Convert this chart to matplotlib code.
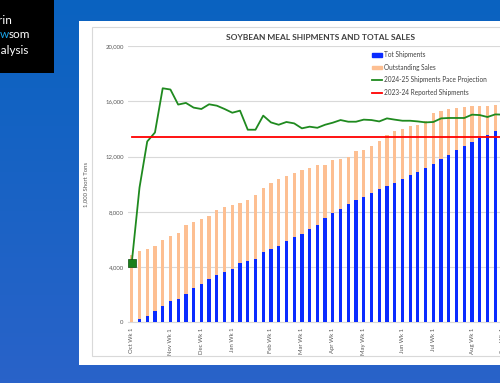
import matplotlib
matplotlib.use('Agg')
import matplotlib.pyplot as plt
import numpy as np
from matplotlib.patches import Rectangle, Patch
from matplotlib.lines import Line2D
from matplotlib.colors import LinearSegmentedColormap

plt.rcParams['font.family'] = ['Lato', 'DejaVu Sans']

# --- data (1,000 short tons), marketing year Oct 2024 - Sep 2025
months = ['Oct', 'Nov', 'Dec', 'Jan', 'Feb', 'Mar', 'Apr', 'May', 'Jun', 'Jul', 'Aug', 'Sep']
weeks_in_month = [5, 4, 4, 5, 4, 4, 4, 5, 4, 5, 4, 4]

tot_shipments = [50, 260, 480, 800, 1190, 1510, 1700, 2040, 2450, 2770, 3140, 3440, 3660, 3890,
                 4290, 4440, 4580, 5070, 5310, 5550, 5920, 6160, 6420, 6760, 7030, 7560, 7900,
                 8170, 8560, 8850, 9090, 9360, 9620, 9890, 10110, 10380, 10640, 10880, 11150,
                 11440, 11810, 12120, 12440, 12730, 13070, 13360, 13530, 13870, 14080]
outstanding_sales = [4850, 4880, 4850, 4730, 4750, 4740, 4800, 4990, 4820, 4700, 4590, 4660, 4650,
                     4570, 4320, 4380, 4660, 4680, 4750, 4850, 4670, 4650, 4580, 4440, 4340, 3860,
                     3830, 3680, 3440, 3540, 3370, 3390, 3490, 3640, 3710, 3610, 3540, 3400, 3440,
                     3710, 3510, 3300, 3100, 2830, 2570, 2300, 2150, 1840, 1650]
pace_projection = [4320, 9750, 13090, 13740, 16940, 16850, 15760, 15880, 15540, 15440, 15780, 15680,
                   15440, 15170, 15320, 13940, 13940, 14960, 14470, 14300, 14500, 14400, 14040,
                   14160, 14080, 14300, 14450, 14640, 14520, 14520, 14670, 14640, 14540, 14760,
                   14670, 14590, 14590, 14540, 14470, 14500, 14760, 14790, 14790, 14790, 15030,
                   15000, 14860, 15050, 15030]
reported_2324 = 13380

week_labels = []
for m, n in zip(months, weeks_in_month):
    for k in range(n):
        week_labels.append(f'{m} Wk {k + 1}')

W, H = 500, 383
fig = plt.figure(figsize=(5, 3.83), dpi=100)

# blue backdrop
bg = fig.add_axes([0, 0, 1, 1], zorder=-5)
grad = np.linspace(0, 1, 100).reshape(-1, 1)
cm = LinearSegmentedColormap.from_list('bg', ['#0a62c0', '#2962c9'])
bg.imshow(grad, aspect='auto', cmap=cm, extent=[0, 1, 0, 1], origin='upper')
bg.set_xlim(0, 1)
bg.set_ylim(0, 1)
bg.axis('off')

# logo block (runs off the left edge like the reference)
fig.patches.append(Rectangle((0, 1 - 72.7 / H), 54 / W, 72.7 / H, transform=fig.transFigure,
                             facecolor='black', edgecolor='none', zorder=-1))
fig.text(12.5 / W, 1 - 20 / H, 'Darin', color='white', fontsize=8.5, ha='right', va='center')
fig.text(0 / W, 1 - 35 / H, 'Ne', color='white', fontsize=8.5, ha='right', va='center')
fig.text(9 / W, 1 - 35 / H, 'w', color='#1aa3e8', fontsize=8.5, ha='right', va='center')
fig.text(9 / W, 1 - 35 / H, 'som', color='white', fontsize=8.5, ha='left', va='center')
fig.text(29.5 / W, 1 - 50 / H, 'Analysis', color='white', fontsize=8.5, ha='right', va='center')

# white chart panel
fig.patches.append(Rectangle((79 / W, 1 - 365 / H), 0.9, (365 - 21) / H, transform=fig.transFigure,
                             facecolor='white', edgecolor='none', zorder=-1))
fig.patches.append(Rectangle((92 / W, 1 - 356 / H), 0.9, (356 - 27) / H, transform=fig.transFigure,
                             facecolor='white', edgecolor='#d9d9d9', lw=0.8, zorder=-1))

# plot area
x0, x1 = 127.9, 530.0
y0, y1 = 322.3, 46.0
ax = fig.add_axes([x0 / W, 1 - y0 / H, (x1 - x0) / W, (y0 - y1) / H], zorder=2)
ax.patch.set_alpha(0)

x = np.arange(len(tot_shipments))
ax.bar(x, tot_shipments, width=0.42, color='#0a2bff', zorder=3)
ax.bar(x, outstanding_sales, bottom=tot_shipments, width=0.42, color='#fdbf92', zorder=3)
ax.plot(x, pace_projection, color='#1f8a1f', lw=1.3, zorder=4)
ax.plot(x[:1], pace_projection[:1], marker='s', ms=5.5, color='#1a7f1a', mec='#0d4d0d', mew=0.5,
        zorder=5)
ax.plot(x, np.full(len(x), reported_2324), color='#ff0000', lw=1.3, zorder=4)

ax.set_xlim(-0.5, len(week_labels) - 0.5)
ax.set_ylim(0, 20000)
ax.set_yticks(np.arange(0, 20001, 4000))
ax.set_yticklabels([f'{v:,}' for v in range(0, 20001, 4000)])
ax.set_xticks(np.arange(len(week_labels)))
ax.set_xticklabels([l if l.endswith('Wk 1') else '' for l in week_labels], rotation=90)
ax.tick_params(axis='both', length=0, labelsize=4.3, colors='#595959')
ax.tick_params(axis='x', pad=4)
ax.tick_params(axis='y', pad=3)
ax.grid(axis='y', color='#d9d9d9', lw=0.8, zorder=0)
for s in ['top', 'right', 'left']:
    ax.spines[s].set_visible(False)
ax.spines['bottom'].set_color('#d9d9d9')
ax.spines['bottom'].set_linewidth(0.8)
ax.set_ylabel('1,000 Short Tons', fontsize=4.3, color='#595959', labelpad=12)

handles = [Patch(color='#0a2bff'), Patch(color='#fdbf92'),
           Line2D([], [], color='#1f8a1f', lw=1.3), Line2D([], [], color='#ff0000', lw=1.3)]
labels = ['Tot Shipments', 'Outstanding Sales', '2024-25 Shipments Pace Projection',
          '2023-24 Reported Shipments']
leg = ax.legend(handles, labels, loc='upper left', bbox_to_anchor=(0.6, 0.99), frameon=False,
                fontsize=4.7, handlelength=1.5, handleheight=0.5, handletextpad=0.3,
                labelspacing=0.85, borderaxespad=0)
for t in leg.get_texts():
    t.set_color('#404040')

fig.text(320 / W, 1 - 37 / H, 'SOYBEAN MEAL SHIPMENTS AND TOTAL SALES', fontsize=6,
         fontweight='bold', color='#404040', ha='center', va='center')

fig.savefig('out.png', dpi=100)
